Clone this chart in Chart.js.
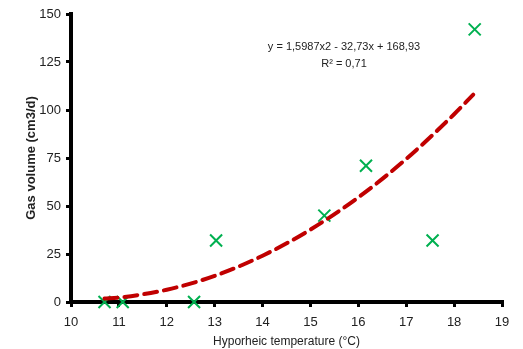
<!DOCTYPE html>
<html>
<head>
<meta charset="utf-8">
<script src="https://cdn.jsdelivr.net/npm/chart.js@4.4.1/dist/chart.umd.min.js"></script>
<style>
    html, body { margin: 0; padding: 0; background: #fff; }
    #wrap { width: 523px; height: 349px; }
</style>
</head>
<body>
<div id="wrap"><canvas id="chart" width="523" height="349"></canvas></div>
<script>
// Measured points (temperature vs gas volume)
const temperature = [10.7, 11.08, 12.57, 13.03, 15.29, 16.16, 17.55, 18.43];
const gasVolume = [0, 0, 0, 32, 45, 71, 32, 142];

// Trendline
const trendX = [10.7, 11, 12, 13, 14, 15, 16, 17, 18, 18.4];
const trendY = [1.8, 2.3, 6.4, 13.6, 24.1, 37.7, 54.5, 74.5, 97.8, 108];

const yTicks = [0, 25, 50, 75, 100, 125, 150];
const equationText = 'y = 1,5987x2 - 32,73x + 168,93';
const r2Text = 'R² = 0,71';

const fontFamily = '"Liberation Sans", Arial, sans-serif';

// Draw the equation and R² near the top
const equationPlugin = {
    id: 'equation',
    afterDraw(chart) {
        const ctx = chart.ctx;
        ctx.save();
        ctx.fillStyle = '#222';
        ctx.font = '11px ' + fontFamily;
        ctx.textAlign = 'center';
        ctx.textBaseline = 'middle';
        ctx.fillText(equationText, 344, 47);
        ctx.fillText(r2Text, 344, 64);
        ctx.restore();
    }
};

new Chart(document.getElementById('chart'), {
    type: 'scatter',
    data: {
        datasets: [
            {
                type: 'line',
                data: trendX.map((x, i) => ({ x: x, y: trendY[i] })),
                borderColor: '#C00000',
                borderWidth: 4,
                borderDash: [13, 7],
                borderCapStyle: 'round',
                pointRadius: 0,
                tension: 0.4,
                cubicInterpolationMode: 'monotone',
                fill: false,
                clip: false
            },
            {
                data: temperature.map((x, i) => ({ x: x, y: gasVolume[i] })),
                pointStyle: 'crossRot',
                pointRadius: 8.5,
                borderColor: '#00B050',
                backgroundColor: '#00B050',
                pointBorderWidth: 2,
                clip: false
            }
        ]
    },
    options: {
        responsive: false,
        animation: false,
        layout: { padding: { top: 14, right: 21, left: 24, bottom: 0 } },
        plugins: {
            legend: { display: false },
            tooltip: { enabled: false }
        },
        scales: {
            x: {
                type: 'linear',
                min: 10,
                max: 19,
                ticks: {
                    stepSize: 1,
                    color: '#222',
                    font: { family: fontFamily, size: 13 },
                    padding: 8
                },
                grid: { drawOnChartArea: false, drawTicks: true, tickLength: 5, color: '#000', lineWidth: 3 },
                border: { color: '#000', width: 4 },
                title: {
                    display: true,
                    text: 'Hyporheic temperature (°C)',
                    color: '#222',
                    font: { family: fontFamily, size: 12 },
                    padding: { top: 0, bottom: 0 }
                },
                afterFit(scale) { scale.height = 47; }
            },
            y: {
                type: 'linear',
                min: 0,
                max: 150,
                afterBuildTicks(scale) {
                    scale.ticks = yTicks.map(v => ({ value: v }));
                },
                ticks: {
                    color: '#222',
                    font: { family: fontFamily, size: 13 },
                    padding: 5
                },
                grid: { drawOnChartArea: false, drawTicks: true, tickLength: 5, color: '#000', lineWidth: 3 },
                border: { color: '#000', width: 4 },
                title: {
                    display: true,
                    text: 'Gas volume (cm3/d)',
                    color: '#222',
                    font: { family: fontFamily, size: 13, weight: 'bold' },
                    padding: { top: 0, bottom: 0 }
                },
                afterFit(scale) { scale.width = 47; }
            }
        }
    },
    plugins: [equationPlugin]
});
</script>
</body>
</html>
